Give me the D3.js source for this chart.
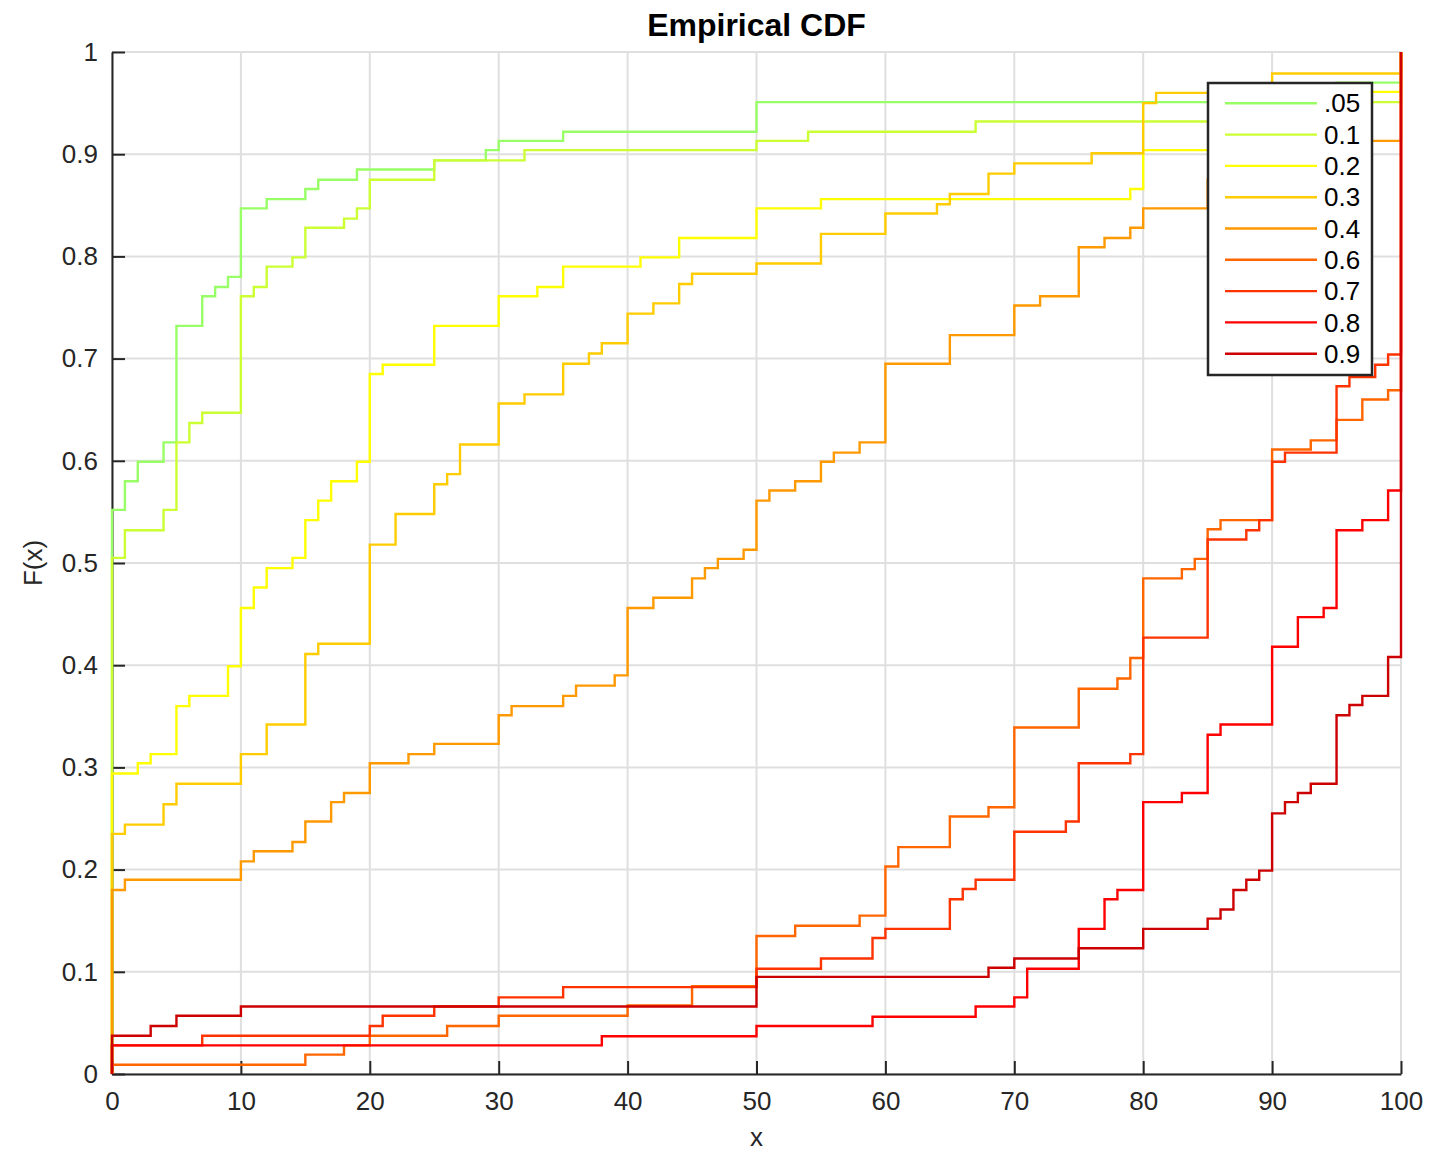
<!DOCTYPE html>
<html>
<head>
<meta charset="utf-8">
<script src="https://cdn.jsdelivr.net/npm/d3@7"></script>
<style>
  body { margin: 0; background: #fff; }
  text { font-family: "Liberation Sans", Arial, Helvetica, sans-serif; fill: #262626; }
</style>
</head>
<body>
<svg id="chart" width="1446" height="1152"></svg>
<script>
// series names (legend) and colours
var names = [".05", "0.1", "0.2", "0.3", "0.4", "0.6", "0.7", "0.8", "0.9"];
var colors = ["#99ff66", "#ccff33", "#ffff00", "#ffcc00", "#ff9900", "#ff6600", "#ff3300", "#ff0000", "#cc0000"];

// step points [x, F(x) after the step]
var s05 = [[0,.552],[1,.580],[2,.599],[4,.618],[5,.732],[7,.761],[8,.770],[9,.780],[10,.847],[12,.856],[15,.866],[16,.875],[19,.885],[25,.894],[29,.904],[30,.913],[35,.922],[50,.951],[95,.970]];
var s10 = [[0,.505],[1,.532],[4,.552],[5,.618],[6,.637],[7,.647],[10,.761],[11,.770],[12,.790],[14,.799],[15,.828],[18,.837],[19,.847],[20,.875],[25,.894],[32,.904],[50,.913],[54,.922],[67,.932],[88,.942],[93,.951]];
var s20 = [[0,.294],[2,.304],[3,.313],[5,.360],[6,.370],[9,.399],[10,.456],[11,.476],[12,.495],[14,.505],[15,.542],[16,.561],[17,.580],[19,.599],[20,.685],[21,.694],[25,.732],[30,.761],[33,.770],[35,.790],[41,.799],[44,.818],[50,.847],[55,.856],[79,.866],[80,.904],[87,.923],[90,.942],[94,.961]];
var s30 = [[0,.235],[1,.244],[4,.264],[5,.284],[10,.313],[12,.342],[15,.411],[16,.421],[20,.518],[22,.548],[25,.577],[26,.587],[27,.616],[30,.656],[32,.665],[35,.695],[37,.705],[38,.715],[40,.744],[42,.754],[44,.773],[45,.783],[50,.793],[55,.822],[60,.842],[64,.851],[65,.861],[68,.881],[70,.891],[76,.901],[80,.950],[81,.960],[90,.979]];
var s40 = [[0,.180],[1,.190],[10,.208],[11,.218],[14,.227],[15,.247],[17,.266],[18,.275],[20,.304],[23,.313],[25,.323],[30,.351],[31,.360],[35,.370],[36,.380],[39,.390],[40,.456],[42,.466],[45,.485],[46,.495],[47,.504],[49,.513],[50,.561],[51,.571],[53,.580],[55,.599],[56,.608],[58,.618],[60,.695],[65,.723],[70,.752],[72,.761],[75,.809],[77,.818],[79,.828],[80,.847],[85,.875],[88,.894],[90,.904],[95,.913]];
var s60 = [[0,.009],[15,.019],[18,.028],[20,.0375],[26,.047],[30,.057],[40,.067],[45,.086],[50,.135],[53,.145],[58,.155],[60,.203],[61,.222],[65,.252],[68,.261],[70,.339],[75,.377],[78,.387],[79,.407],[80,.485],[83,.494],[84,.504],[85,.533],[86,.542],[90,.611],[93,.620],[95,.640],[97,.660],[99,.669]];
var s70 = [[0,.028],[7,.0375],[20,.047],[21,.057],[25,.066],[30,.075],[35,.085],[50,.103],[55,.113],[59,.133],[60,.142],[65,.171],[66,.181],[67,.190],[70,.237],[74,.247],[75,.304],[79,.313],[80,.427],[85,.523],[88,.532],[89,.542],[90,.599],[91,.608],[95,.673],[96,.682],[98,.694],[99,.704]];
var s80 = [[0,.028],[38,.037],[50,.047],[59,.056],[67,.066],[70,.075],[71,.103],[75,.142],[77,.171],[78,.180],[80,.266],[83,.275],[85,.332],[86,.342],[90,.418],[92,.447],[94,.456],[95,.532],[97,.542],[99,.571]];
var s90 = [[0,.0375],[3,.047],[5,.057],[10,.066],[50,.095],[68,.104],[70,.113],[75,.123],[80,.142],[85,.152],[86,.161],[87,.180],[88,.190],[89,.199],[90,.255],[91,.266],[92,.275],[93,.284],[95,.351],[96,.361],[97,.370],[99,.408]];
var allSeries = [s05, s10, s20, s30, s40, s60, s70, s80, s90];

var xTicks = [0,10,20,30,40,50,60,70,80,90,100];
var yTicks = [0,0.1,0.2,0.3,0.4,0.5,0.6,0.7,0.8,0.9,1];
var yTickLabels = ["0","0.1","0.2","0.3","0.4","0.5","0.6","0.7","0.8","0.9","1"];

var svg = d3.select("#chart");
//绘图区边界（window.top 不能用，换个名字）
var pLeft = 112, pRight = 1401, pTop = 52, pBottom = 1074;

var x = d3.scaleLinear().domain([0, 100]).range([pLeft, pRight]);
var y = d3.scaleLinear().domain([0, 1]).range([pBottom, pTop]);

// grid
var grid = svg.append("g").attr("stroke", "#dfdfdf").attr("stroke-width", 2);
grid.selectAll(".gx").data(xTicks).enter().append("line")
    .attr("x1", d => x(d)).attr("x2", d => x(d))
    .attr("y1", pTop).attr("y2", pBottom);
grid.selectAll(".gy").data(yTicks).enter().append("line")
    .attr("x1", pLeft).attr("x2", pRight)
    .attr("y1", d => y(d)).attr("y2", d => y(d));

// axes (inward ticks, no box) - drawn under the stairs like the original
var xAxis = d3.axisBottom(x).tickValues(xTicks).tickSizeInner(-13).tickSizeOuter(0).tickPadding(18);
var yAxis = d3.axisLeft(y).tickValues(yTicks).tickSizeInner(-13).tickSizeOuter(0).tickPadding(14)
    .tickFormat((d, i) => yTickLabels[i]);

var gx = svg.append("g").attr("transform", "translate(0," + pBottom + ")").call(xAxis);
var gy = svg.append("g").attr("transform", "translate(" + pLeft + ",0)").call(yAxis);
[gx, gy].forEach(function(g){
    g.select(".domain").attr("stroke", "#262626").attr("stroke-width", 2);
    g.selectAll(".tick line").attr("stroke", "#262626").attr("stroke-width", 2);
    g.selectAll(".tick text").attr("font-size", 26).attr("fill", "#262626")
        .style("font-family", "'Liberation Sans', Arial, sans-serif");
});

// stairs: start at F=0 on the first x, end at F=1 on x=100
var line = d3.line()
    .x(d => x(d[0]))
    .y(d => y(d[1]))
    .curve(d3.curveStepAfter);

svg.append("g").selectAll("path")
    .data(allSeries)
    .enter().append("path")
    .attr("fill", "none")
    .attr("stroke", (d, i) => colors[i])
    .attr("stroke-width", 2.4)
    .attr("d", function(d){
        var pts = [[d[0][0], 0]].concat(d);
        pts.push([100, 1]);
        return line(pts);
    });

// labels
svg.append("text").attr("x", (pLeft + pRight) / 2).attr("y", 36)
    .attr("text-anchor", "middle").attr("font-size", 32).attr("font-weight", "bold")
    .style("fill", "#000").text("Empirical CDF");
svg.append("text").attr("x", (pLeft + pRight) / 2).attr("y", 1146)
    .attr("text-anchor", "middle").attr("font-size", 26).text("x");
svg.append("text").attr("transform", "translate(42," + ((pTop + pBottom) / 2) + ") rotate(-90)")
    .attr("text-anchor", "middle").attr("font-size", 26).text("F(x)");

// legend
var lg = svg.append("g");
lg.append("rect").attr("x", 1208).attr("y", 83).attr("width", 164).attr("height", 292)
    .attr("fill", "#fff").attr("stroke", "#262626").attr("stroke-width", 2.5);
var rows = lg.selectAll(".row").data(names).enter().append("g")
    .attr("transform", (d, i) => "translate(0," + (103.3 + i * 31.3) + ")");
rows.append("line").attr("x1", 1225).attr("x2", 1317)
    .attr("stroke", (d, i) => colors[i]).attr("stroke-width", 2.4);
rows.append("text").attr("x", 1324).attr("dy", "0.35em").attr("font-size", 26)
    .style("fill", "#000").text(d => d);
</script>
</body>
</html>
